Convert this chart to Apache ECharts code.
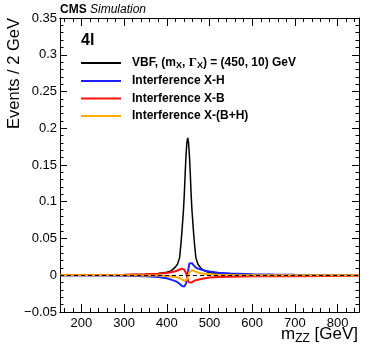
<html lang="en">
<head>
    <meta charset="UTF-8">
    <title>4l VBF interference</title>
    <script src="https://cdn.jsdelivr.net/npm/echarts@6/dist/echarts.min.js"></script>
</head>
<style>
    html, body { margin: 0; padding: 0; background: #fff; }
    #container { width: 374px; height: 359px; }
</style>
<body>
<div id="container"></div>
<script>
    // m_ZZ grid (GeV) shared by all curves
    var masses = [150, 200, 250, 300, 350, 380, 400, 410, 420, 425, 430, 433, 435, 437, 439, 441, 443, 445, 447, 449,
        451, 453, 455, 457, 459, 461, 463, 465, 468, 473, 480, 490, 500, 520, 550, 600, 650, 700, 775, 850];

    // events / 2 GeV
    var vbfSignal = [0.0003, 0.0004, 0.0005, 0.0007, 0.0013, 0.0023, 0.004, 0.006, 0.011, 0.015, 0.024, 0.042, 0.056, 0.072, 0.088, 0.11, 0.138, 0.163, 0.18, 0.187,
        0.18, 0.163, 0.138, 0.11, 0.088, 0.072, 0.056, 0.042, 0.024, 0.015, 0.0095, 0.0055, 0.0038, 0.0022, 0.0013, 0.0007, 0.0005, 0.0004, 0.0003, 0.0003];
    var interfXH = [-0.0002, -0.0003, -0.0005, -0.0008, -0.0015, -0.0025, -0.004, -0.006, -0.008, -0.0095, -0.0115, -0.013, -0.0145, -0.0158, -0.016, -0.0155, -0.014, -0.011, -0.006, 0.002,
        0.01, 0.016, 0.0185, 0.018, 0.0165, 0.015, 0.0135, 0.012, 0.0105, 0.009, 0.0078, 0.0062, 0.005, 0.0035, 0.0024, 0.0014, 0.001, 0.0007, 0.0004, 0.0002];
    var interfXB = [0.0002, 0.0003, 0.0005, 0.0008, 0.0012, 0.002, 0.003, 0.0042, 0.0055, 0.0065, 0.0078, 0.0085, 0.009, 0.009, 0.0085, 0.0075, 0.006, 0.003, -0.001, -0.006,
        -0.0095, -0.0105, -0.0105, -0.01, -0.0095, -0.0088, -0.008, -0.0074, -0.0067, -0.006, -0.005, -0.004, -0.0032, -0.0024, -0.0019, -0.0015, -0.0013, -0.0012, -0.0009, -0.0007];
    var interfXBH = [0, 0, 0, 0, -0.0002, -0.0005, -0.001, -0.0016, -0.0025, -0.003, -0.0038, -0.0045, -0.0055, -0.0065, -0.0072, -0.0075, -0.0075, -0.007, -0.006, -0.003,
        0.001, 0.0045, 0.0065, 0.007, 0.007, 0.0068, 0.0062, 0.0056, 0.0048, 0.0038, 0.0028, 0.0018, 0.0012, 0.0007, 0.0004, 0.0001, 0, 0, 0, 0];

    var xMajorTicks = [200, 300, 400, 500, 600, 700, 800];
    var xMinorTicks = [];
    for (var t = 160; t <= 840; t += 20) xMinorTicks.push(t);

    var legendNames = ['VBF', 'Interference X-H', 'Interference X-B', 'Interference X-(B+H)'];
    var seriesColors = ['#000000', '#1f1fff', '#ff1010', '#ffaa00'];

    function pairs(ys)
    {
        return masses.map(function (m, i) { return [m, ys[i]]; });
    }

    var chart = echarts.init(document.getElementById('container'));

    var font = 'Liberation Sans, Arial, sans-serif';

    function xAxis(pos, ticks, len, labels)
    {
        return {
            type: 'value', position: pos, min: 150, max: 850,
            axisLine: { show: true, onZero: false, lineStyle: { color: '#000', width: 1 } },
            axisTick: { show: true, inside: true, length: len, customValues: ticks, lineStyle: { color: '#000' } },
            axisLabel: labels ? {
                show: true, customValues: ticks, margin: 5,
                color: '#000', fontFamily: font, fontSize: 13
            } : { show: false },
            splitLine: { show: false }
        };
    }

    function yAxis(pos, labels)
    {
        return {
            type: 'value', position: pos, min: -0.05, max: 0.35, interval: 0.05,
            axisLine: { show: true, onZero: false, lineStyle: { color: '#000', width: 1 } },
            axisTick: { show: true, inside: true, length: 7, lineStyle: { color: '#000' } },
            minorTick: { show: true, splitNumber: 5, length: 3.5, lineStyle: { color: '#000' } },
            axisLabel: labels ? {
                show: true, margin: 3, color: '#000', fontFamily: font, fontSize: 13,
                formatter: function (v)
                {
                    var r = Math.round(v * 100) / 100;
                    return r < 0 ? '\u2212' + String(-r) : String(r);
                }
            } : { show: false },
            splitLine: { show: false }
        };
    }

    var option = {
        animation: false,
        grid: { left: 60, right: 15, top: 18, bottom: 47 },
        xAxis: [
            xAxis('bottom', xMajorTicks, 8, true),
            xAxis('bottom', xMinorTicks, 4, false),
            xAxis('top', xMajorTicks, 8, false),
            xAxis('top', xMinorTicks, 4, false)
        ],
        yAxis: [yAxis('left', true), yAxis('right', false)],
        legend: {
            orient: 'vertical', left: 81, top: 56, padding: 0,
            itemWidth: 40, itemHeight: 2, itemGap: 3.5, icon: 'rect',
            data: legendNames,
            textStyle: {
                fontFamily: font, fontWeight: 'bold', fontSize: 12, color: '#000',
                lineHeight: 14, padding: [0, 0, 0, 6],
                rich: {
                    sub: { fontFamily: font, fontWeight: 'bold', fontSize: 9, padding: [6, 0, 0, 0] },
                    g: { fontFamily: 'Liberation Serif, serif', fontSize: 13 }
                }
            },
            formatter: function (name)
            {
                if (name === 'VBF')
                    return 'VBF, (m{sub|X}, {g|\u0393}{sub|X}) = (450, 10) GeV';
                return name;
            }
        },
        graphic: [
            {
                type: 'text', left: 60, top: 4,
                style: {
                    text: '{b|CMS} {i|Simulation}',
                    rich: {
                        b: { fontFamily: font, fontWeight: 'bold', fontSize: 12, fill: '#000' },
                        i: { fontFamily: font, fontStyle: 'italic', fontSize: 12, fill: '#000' }
                    }
                }
            },
            {
                type: 'text', left: 81, top: 33,
                style: { text: '4l', font: 'bold 16px ' + font, fill: '#000' }
            },
            {
                type: 'text', x: 14, y: 18, rotation: Math.PI / 2,
                style: {
                    text: 'Events / 2 GeV', font: '16.5px ' + font, fill: '#000',
                    align: 'right', verticalAlign: 'middle'
                }
            },
            {
                type: 'text', right: 16, top: 326,
                style: {
                    text: 'm{sub|ZZ} [GeV]',
                    font: '17px ' + font, fill: '#000',
                    rich: {
                        sub: { fontFamily: font, fontSize: 12, padding: [9, 0, 0, 0] }
                    }
                }
            }
        ],
        series: [
            {
                name: 'VBF', type: 'line', showSymbol: false, data: pairs(vbfSignal),
                lineStyle: { color: seriesColors[0], width: 1.5 }, itemStyle: { color: seriesColors[0] }
            },
            {
                name: 'Interference X-H', type: 'line', showSymbol: false, data: pairs(interfXH),
                lineStyle: { color: seriesColors[1], width: 2 }, itemStyle: { color: seriesColors[1] }
            },
            {
                name: 'Interference X-B', type: 'line', showSymbol: false, data: pairs(interfXB), z: 3,
                lineStyle: { color: seriesColors[2], width: 2 }, itemStyle: { color: seriesColors[2] }
            },
            {
                name: 'Interference X-(B+H)', type: 'line', showSymbol: false, data: pairs(interfXBH),
                lineStyle: { color: seriesColors[3], width: 2 }, itemStyle: { color: seriesColors[3] },
                markLine: {
                    silent: true, symbol: 'none', z: 10,
                    label: { show: false },
                    lineStyle: { color: '#000', type: [4, 3], width: 1 },
                    data: [{ yAxis: 0 }]
                }
            }
        ]
    };

    chart.setOption(option);
</script>
</body>
</html>
